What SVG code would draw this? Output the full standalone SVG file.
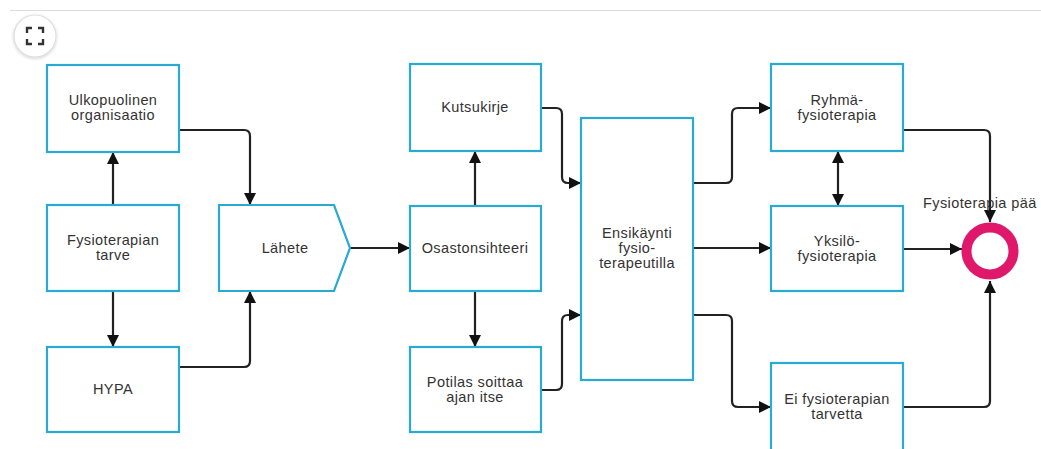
<svg xmlns="http://www.w3.org/2000/svg" width="1041" height="449" viewBox="0 0 1041 449">
<defs>
<style>
.box{fill:#fff;stroke:#2aa9d2;stroke-width:2.2}
.t{font-family:"Liberation Sans",Arial,sans-serif;font-size:14.5px;fill:#333;text-anchor:middle;letter-spacing:0.4px}
.c{fill:none;stroke:#222;stroke-width:2.2;stroke-linejoin:round}
</style>
<marker id="a" viewBox="0 0 10 10" refX="10" refY="5" markerWidth="5.5" markerHeight="5.5" orient="auto-start-reverse" markerUnits="strokeWidth">
<path d="M0,0 L10,5 L0,10 z" fill="#111"/>
</marker>
<filter id="sh" x="-30%" y="-30%" width="160%" height="160%">
<feDropShadow dx="0" dy="1" stdDeviation="1.5" flood-color="#000" flood-opacity="0.2"/>
</filter>
</defs>
<rect width="1041" height="449" fill="#fff"/>
<line x1="10" y1="10.5" x2="1041" y2="10.5" stroke="#ddd" stroke-width="1.2"/>
<g id="expand">
<circle cx="35" cy="36" r="21" fill="#fff" stroke="#ddd" stroke-width="1.2" filter="url(#sh)"/>
<path d="M27,33 V28 H32 M38,28 H43 V33 M43,39 V44 H38 M32,44 H27 V39" fill="none" stroke="#333" stroke-width="2.4"/>
</g>
<g id="connectors">
<path class="c" d="M113,205 V152" marker-end="url(#a)"/>
<path class="c" d="M113,291 V347" marker-end="url(#a)"/>
<path class="c" d="M179,130 H244 Q250,130 250,136 V205" marker-end="url(#a)"/>
<path class="c" d="M179,367 H244 Q250,367 250,361 V291" marker-end="url(#a)"/>
<path class="c" d="M350,248 H410" marker-end="url(#a)"/>
<path class="c" d="M475,206 V151" marker-end="url(#a)"/>
<path class="c" d="M475,291 V347" marker-end="url(#a)"/>
<path class="c" d="M541,108 H556 Q562,108 562,114 V177 Q562,183 568,183 H581" marker-end="url(#a)"/>
<path class="c" d="M541,390 H556 Q562,390 562,384 V321 Q562,315 568,315 H581" marker-end="url(#a)"/>
<path class="c" d="M693,183 H726 Q732,183 732,177 V114 Q732,108 738,108 H771" marker-end="url(#a)"/>
<path class="c" d="M693,248 H771" marker-end="url(#a)"/>
<path class="c" d="M693,315 H726 Q732,315 732,321 V401 Q732,407 738,407 H771" marker-end="url(#a)"/>
<path class="c" d="M838,151 V206" marker-start="url(#a)" marker-end="url(#a)"/>
<path class="c" d="M903,130 H984 Q990,130 990,136 V222" marker-end="url(#a)"/>
<path class="c" d="M903,249 H962" marker-end="url(#a)"/>
<path class="c" d="M903,407 H984 Q990,407 990,401 V281" marker-end="url(#a)"/>
</g>
<g id="ulkopuolinen">
<rect class="box" x="47" y="65" width="132" height="87"/>
<text class="t" x="113" y="105">Ulkopuolinen</text>
<text class="t" x="113" y="120">organisaatio</text>
</g>
<g id="fysioterapian-tarve">
<rect class="box" x="47" y="205" width="132" height="86"/>
<text class="t" x="113" y="245">Fysioterapian</text>
<text class="t" x="113" y="260">tarve</text>
</g>
<g id="hypa">
<rect class="box" x="47" y="347" width="132" height="85"/>
<text class="t" x="113" y="394">HYPA</text>
</g>
<g id="lahete">
<path class="box" d="M219,205 H334 L350,248 L334,291 H219 Z"/>
<text class="t" x="285" y="253">Lähete</text>
</g>
<g id="kutsukirje">
<rect class="box" x="410" y="64" width="131" height="87"/>
<text class="t" x="475" y="112">Kutsukirje</text>
</g>
<g id="osastonsihteeri">
<rect class="box" x="410" y="206" width="131" height="85"/>
<text class="t" x="475" y="253">Osastonsihteeri</text>
</g>
<g id="potilas">
<rect class="box" x="410" y="347" width="131" height="85"/>
<text class="t" x="475" y="387">Potilas soittaa</text>
<text class="t" x="475" y="402">ajan itse</text>
</g>
<g id="ensikaynti">
<rect class="box" x="581" y="118" width="112" height="262"/>
<text class="t" x="637" y="238">Ensikäynti</text>
<text class="t" x="637" y="253">fysio-</text>
<text class="t" x="637" y="268">terapeutilla</text>
</g>
<g id="ryhma">
<rect class="box" x="771" y="64" width="132" height="87"/>
<text class="t" x="837" y="105">Ryhmä-</text>
<text class="t" x="837" y="120">fysioterapia</text>
</g>
<g id="yksilo">
<rect class="box" x="771" y="206" width="132" height="85"/>
<text class="t" x="837" y="246">Yksilö-</text>
<text class="t" x="837" y="261">fysioterapia</text>
</g>
<g id="ei">
<rect class="box" x="771" y="363" width="132" height="90"/>
<text class="t" x="837" y="404">Ei fysioterapian</text>
<text class="t" x="837" y="419">tarvetta</text>
</g>
<g id="end">
<circle cx="990" cy="251" r="23.5" fill="#fff" stroke="#e0186c" stroke-width="10"/>
<text class="t" x="923" y="208" style="text-anchor:start">Fysioterapia pää</text>
</g>
</svg>
